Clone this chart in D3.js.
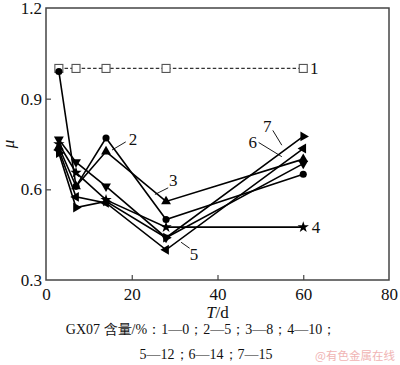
<!DOCTYPE html>
<html>
<head>
<meta charset="utf-8">
<script src="https://cdn.jsdelivr.net/npm/d3@7"></script>
<style>
  body { margin: 0; background: #fff; }
  text { font-family: "Liberation Serif", "Times New Roman", serif; }
</style>
</head>
<body>
<div id="chart"></div>
<script>
// days sampled
var days = [3, 7, 14, 28, 60];
var xTicks = [0, 20, 40, 60, 80];
var yTicks = [0.3, 0.6, 0.9, 1.2];

// friction coefficient per series (GX07 content)
var s1 = [1.0, 1.0, 1.0, 1.0, 1.0];
var s2 = [0.99, 0.61, 0.77, 0.50, 0.65];
var s3 = [0.74, 0.61, 0.725, 0.56, 0.70];
var s4 = [0.75, 0.655, 0.565, 0.475, 0.475];
var s5 = [0.73, 0.575, 0.555, 0.40, 0.735];
var s6 = [0.765, 0.69, 0.61, 0.44, 0.685];
var s7 = [0.72, 0.54, 0.56, 0.44, 0.775];

var seriesNames = ["1", "2", "3", "4", "5", "6", "7"];
var seriesMarks = ["openSquare", "circle", "up", "star", "left", "down", "right"];
var seriesData = [s1, s2, s3, s4, s5, s6, s7];

var width = 400, height = 365;
var margin = {left: 46, right: 11, top: 8, bottom: 85};

var x = d3.scaleLinear().domain([0, 80]).range([margin.left, width - margin.right]);
var y = d3.scaleLinear().domain([0.3, 1.2]).range([height - margin.bottom, margin.top]);

var svg = d3.select("#chart").append("svg")
    .attr("width", width)
    .attr("height", height);

// frame
svg.append("rect")
    .attr("x", x(0)).attr("y", y(1.2))
    .attr("width", x(80) - x(0)).attr("height", y(0.3) - y(1.2))
    .attr("fill", "none").attr("stroke", "#444").attr("stroke-width", 1.5);

// inner ticks
var xAxis = d3.axisBottom(x).tickValues(xTicks).tickSize(-5).tickPadding(8).tickFormat(d3.format("d"));
var gx = svg.append("g").attr("transform", "translate(0," + y(0.3) + ")").call(xAxis);
var yAxis = d3.axisLeft(y).tickValues(yTicks).tickSize(-5).tickPadding(8).tickFormat(d3.format(".1f"));
var gy = svg.append("g").attr("transform", "translate(" + x(0) + ",0)").call(yAxis);

[gx, gy].forEach(function(g) {
  g.select(".domain").remove();
  g.selectAll(".tick line").attr("stroke", "#444").attr("stroke-width", 1.2);
  g.selectAll(".tick text")
    .attr("fill", "#111")
    .style("font-family", "Liberation Serif")
    .style("font-size", "17px");
});
gx.selectAll(".tick line").filter(function(d) { return d === 0 || d === 80; }).remove();
gy.selectAll(".tick line").filter(function(d) { return d === 0.3 || d === 1.2; }).remove();
gy.selectAll(".tick text").attr("x", -4);

// axis titles
var xt = svg.append("text")
    .attr("x", x(40)).attr("y", 318)
    .attr("text-anchor", "middle")
    .style("font-size", "17px").attr("fill", "#111");
xt.append("tspan").style("font-style", "italic").text("T");
xt.append("tspan").text("/d");

svg.append("text")
    .attr("transform", "translate(14," + y(0.75) + ") rotate(-90)")
    .attr("text-anchor", "middle")
    .style("font-size", "17px").style("font-style", "italic")
    .attr("fill", "#111")
    .text("μ");

// lines
var line = d3.line()
    .x(function(d, i) { return x(days[i]); })
    .y(function(d) { return y(d); });

seriesData.forEach(function(vals, k) {
  svg.append("path")
    .datum(vals)
    .attr("d", line)
    .attr("fill", "none")
    .attr("stroke", k === 0 ? "#333" : "#000")
    .attr("stroke-width", k === 0 ? 1.3 : 1.6)
    .attr("stroke-dasharray", k === 0 ? "3.5,2.2" : null);
});

// markers
var tri = d3.symbol().type(d3.symbolTriangle).size(42);
var star = d3.symbol().type(d3.symbolStar).size(40);
var circ = d3.symbol().type(d3.symbolCircle).size(40);
var rot = {up: 0, down: 180, left: -90, right: 90};

seriesData.forEach(function(vals, k) {
  var kind = seriesMarks[k];
  vals.forEach(function(v, i) {
    var cx = x(days[i]), cy = y(v);
    if (kind === "openSquare") {
      svg.append("rect")
        .attr("x", cx - 4).attr("y", cy - 4)
        .attr("width", 8).attr("height", 8)
        .attr("fill", "#fff").attr("stroke", "#555").attr("stroke-width", 1.1);
    } else if (kind === "circle") {
      svg.append("path").attr("d", circ).attr("transform", "translate(" + cx + "," + cy + ")").attr("fill", "#000");
    } else if (kind === "star") {
      svg.append("path").attr("d", star).attr("transform", "translate(" + cx + "," + cy + ")").attr("fill", "#000");
    } else {
      svg.append("path").attr("d", tri)
        .attr("transform", "translate(" + cx + "," + cy + ") rotate(" + rot[kind] + ")")
        .attr("fill", "#000");
    }
  });
});

// series labels with leader lines (data coordinates)
var labels = [
  {t: "1", lx: 61.6, ly: 1.0, from: null},
  {t: "2", lx: 20.3, ly: 0.768, from: [15.4, 0.73], to: [18.6, 0.757]},
  {t: "3", lx: 29.7, ly: 0.63, from: [25.4, 0.583], to: [28.5, 0.605]},
  {t: "4", lx: 62.0, ly: 0.475, from: null},
  {t: "5", lx: 34.5, ly: 0.385, from: [31.5, 0.425], to: [33.5, 0.405]},
  {t: "6", lx: 48.2, ly: 0.755, from: [49.6, 0.755], to: [55.0, 0.708]},
  {t: "7", lx: 51.6, ly: 0.81, from: [52.9, 0.795], to: [55.0, 0.746]}
];
labels.forEach(function(l) {
  svg.append("text")
    .attr("x", x(l.lx)).attr("y", y(l.ly))
    .attr("dy", "0.35em")
    .attr("text-anchor", l.from ? "middle" : "start")
    .style("font-size", "17px").attr("fill", "#111")
    .text(l.t);
  if (l.from) {
    svg.append("line")
      .attr("x1", x(l.from[0])).attr("y1", y(l.from[1]))
      .attr("x2", x(l.to[0])).attr("y2", y(l.to[1]))
      .attr("stroke", "#000").attr("stroke-width", 0.9);
  }
});

// caption
svg.append("text")
    .attr("x", 201).attr("y", 334)
    .attr("text-anchor", "middle")
    .style("font-size", "14px").attr("fill", "#111")
    .text("GX07 含量/%：1—0；2—5；3—8；4—10；");
svg.append("text")
    .attr("x", 206).attr("y", 359)
    .attr("text-anchor", "middle")
    .style("font-size", "14px").attr("fill", "#111")
    .text("5—12；6—14；7—15");
svg.append("text")
    .attr("x", 395).attr("y", 360)
    .attr("text-anchor", "end")
    .style("font-family", "Noto Sans CJK SC")
    .style("font-size", "11.5px").attr("fill", "#f0b4b4")
    .text("@有色金属在线");
</script>
</body>
</html>
